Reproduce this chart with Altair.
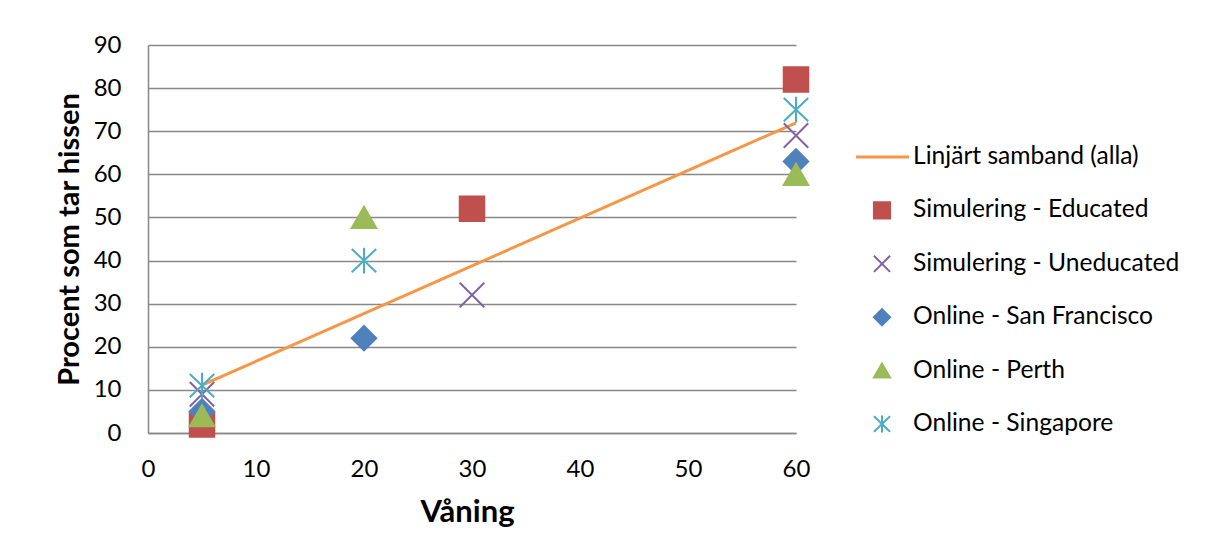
import altair as alt
import pandas as pd

trend_name = "Linjärt samband (alla)"
series_names = [
    "Simulering - Educated",
    "Simulering - Uneducated",
    "Online - San Francisco",
    "Online - Perth",
    "Online - Singapore",
]
educated_x = [5, 30, 60]
educated_y = [2, 52, 82]
uneducated_x = [5, 30, 60]
uneducated_y = [9, 32, 69]
sf_x = [5, 20, 60]
sf_y = [5, 22, 63]
perth_x = [5, 20, 60]
perth_y = [4, 50, 60]
singapore_x = [5, 20, 60]
singapore_y = [11, 40, 75]

xs = [educated_x, uneducated_x, sf_x, perth_x, singapore_x]
ys = [educated_y, uneducated_y, sf_y, perth_y, singapore_y]
rows = []
for name, sx, sy in zip(series_names, xs, ys):
    for a, b in zip(sx, sy):
        rows.append({"series": name, "x": a, "y": b})
df = pd.DataFrame(rows)

X_PATH = "M-1,-1L1,1M-1,1L1,-1"
STAR_PATH = "M0,-1.05L0,1.05M-1,-0.95L1,0.95M-1,0.95L1,-0.95"

domain = [trend_name] + series_names
colors = ["#F79646", "#C0504D", "#8064A2", "#4F81BD", "#9BBB59", "#4BACC6"]
shapes = ["stroke", "square", X_PATH, "diamond", "triangle-up", STAR_PATH]

FONT = "Lato"

color_scale = alt.Scale(domain=domain, range=colors)
shape_scale = alt.Scale(domain=domain, range=shapes)

x_enc = alt.X(
    "x:Q",
    scale=alt.Scale(domain=[0, 60], nice=False, padding=0, zero=True),
    axis=alt.Axis(
        values=[0, 10, 20, 30, 40, 50, 60], title="Våning", grid=False,
        labelFlush=False, titleX=319,
    ),
)
y_enc = alt.Y(
    "y:Q",
    scale=alt.Scale(domain=[0, 90], nice=False, padding=0, zero=True),
    axis=alt.Axis(
        values=list(range(0, 91, 10)), title="Procent som tar hissen", grid=True,
        labelFlush=False,
    ),
)

base = alt.Chart(df)

trend = (
    base.transform_regression("x", "y")
    .transform_calculate(series="'" + trend_name + "'")
    .mark_line(strokeWidth=3)
    .encode(
        x=x_enc,
        y=y_enc,
        stroke=alt.Stroke("series:N", scale=color_scale, legend=None),
    )
)

points = base.mark_point(filled=True, size=600, strokeWidth=2, opacity=1).encode(
    x=x_enc,
    y=y_enc,
    fill=alt.Fill("series:N", scale=color_scale, legend=None),
    stroke=alt.Stroke("series:N", scale=color_scale, legend=None),
    shape=alt.Shape("series:N", scale=shape_scale, legend=None),
)

main = alt.layer(trend, points).properties(width=648, height=388)

# Manual legend panel
leg_df = pd.DataFrame({"series": domain})
leg_y = alt.Y(
    "series:N",
    scale=alt.Scale(type="point", domain=domain, range=[112, 379], padding=0),
    axis=None,
)
leg_base = alt.Chart(leg_df)

leg_line = leg_base.transform_filter(alt.datum.series == trend_name).mark_rule(strokeWidth=3).encode(
    x=alt.value(0),
    x2=alt.value(53),
    y=leg_y,
    color=alt.Color("series:N", scale=color_scale, legend=None),
)
leg_sym = leg_base.transform_filter(alt.datum.series != trend_name).mark_point(
    filled=True, size=260, strokeWidth=2, opacity=1
).encode(
    x=alt.value(26),
    y=leg_y,
    fill=alt.Fill("series:N", scale=color_scale, legend=None),
    stroke=alt.Stroke("series:N", scale=color_scale, legend=None),
    shape=alt.Shape("series:N", scale=shape_scale, legend=None),
)
leg_text = leg_base.mark_text(
    align="left", baseline="middle", font=FONT, fontSize=24.6, color="#000000"
).encode(x=alt.value(57), y=leg_y, text="series:N")

legend_panel = alt.layer(leg_line, leg_sym, leg_text).properties(width=330, height=388)

chart = (
    alt.hconcat(main, legend_panel, spacing=41)
    .resolve_scale(y="independent", x="independent")
    .properties(padding={"left": 47, "top": 25, "right": 5, "bottom": 5}, background="white")
    .configure_view(stroke=None)
    .configure_axis(
        labelFont=FONT,
        labelFontSize=24,
        labelColor="#000000",
        titleFont=FONT,
        titleFontWeight="bold",
        titleColor="#000000",
        domainColor="#888888",
        domainWidth=1.5,
        gridColor="#888888",
        gridWidth=1.5,
        ticks=False,
    )
    .configure_axisX(labelPadding=24, titlePadding=16, titleFontSize=31)
    .configure_axisY(labelPadding=27, titlePadding=9, titleFontSize=29)
)

chart.save("out.html", embed_options={"renderer": "svg", "actions": False})
